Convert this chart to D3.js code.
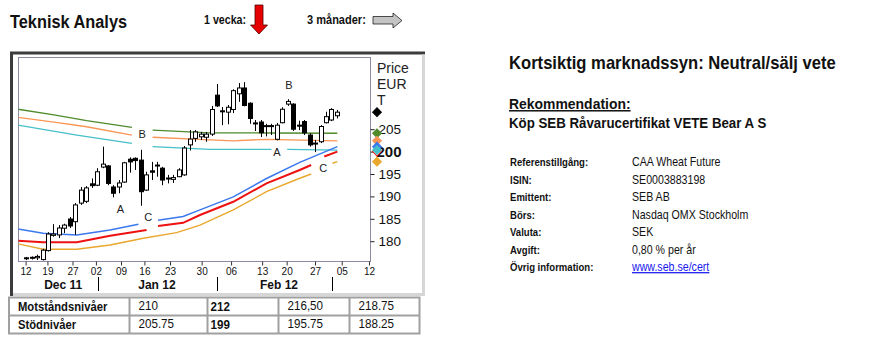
<!DOCTYPE html>
<html>
<head>
<meta charset="utf-8">
<script src="https://cdn.jsdelivr.net/npm/d3@7"></script>
<style>
  body { margin: 0; background: #fff; }
  text { fill: #111; }
</style>
</head>
<body>
<script>
// daily candles, EUR (one per trading day, Dec 12 -> early March)
const open  = [176.1,176.2,176.3,175.9,177.9,181.3,181.4,182.9,184.95,184.35,188.5,188.9,192.8,192.5,196.55,196.8,192.1,192.1,193.2,198.3,198.5,198.1,191.4,195.7,196.8,196.3,194.1,193.8,194.4,194.8,201.5,202.95,203.3,203.2,203.9,212.6,209.1,208.8,209.4,212.9,214.2,210.8,206.4,206.6,205.6,205.8,202.75,206.45,210.6,210.6,205.9,206.7,203.7,201.7,202.2,206.45,207.05,208.0];
const high  = [176.5,176.6,177.0,178.3,182.0,183.8,183.6,183.9,185.4,188.5,192.1,192.3,194.0,196.3,201.1,197.0,192.5,193.65,197.7,198.7,198.7,200.4,195.5,197.7,197.7,196.6,194.8,194.8,196.3,201.25,204.8,204.8,204.4,204.4,210.2,215.1,209.95,210.4,213.9,215.3,215.5,211.0,207.05,207.05,206.2,206.2,206.4,209.9,211.7,210.8,206.9,207.05,204.1,202.6,205.9,208.9,209.7,209.3];
const low   = [175.8,175.9,175.8,175.7,177.7,181.0,180.7,181.8,182.95,181.4,188.1,188.5,191.9,192.3,196.3,192.5,189.8,190.7,193.0,195.3,195.9,187.9,191.2,193.65,194.4,192.5,192.9,193.0,194.3,194.6,200.25,202.2,202.6,202.2,203.5,209.95,205.9,206.1,208.6,211.1,210.1,206.2,204.6,203.25,203.4,203.7,202.5,206.3,210.2,204.6,204.8,203.7,201.1,199.9,201.9,206.3,206.8,207.4];
const close = [176.3,176.4,176.6,178.0,181.6,181.6,182.95,183.6,183.4,188.1,191.4,191.9,192.4,195.5,197.2,192.9,190.7,193.0,197.5,197.7,198.0,191.05,194.8,195.4,197.0,193.65,193.95,194.2,195.9,200.8,202.8,204.4,203.9,203.9,209.4,210.2,208.9,209.9,213.6,214.2,210.3,207.4,206.2,204.2,205.8,205.6,205.9,209.45,211.2,205.0,205.7,204.2,201.5,201.9,205.6,207.8,209.4,208.8];

// indicator lines: [day index, value]; null = break around a label
const green  = [[-1.6,209.45],[5,208.2],[11,206.9],[19.3,205.4],null,[23.1,204.8],[33.6,204.2],[45,204.15],[57,204.1]];
const orange = [[-1.6,207.65],[5,206.6],[11,205.55],[19.3,203.7],null,[23.1,203.2],[33.6,202.6],[37.9,202.4],[44,202.75],[57,202.4]];
const cyan   = [[-1.6,205.9],[9.2,203.7],[19.3,201.85],null,[23.1,201.1],[33.6,200.5],[44.9,200.5],null,[47.8,200.5],[57,200.35]];
const blue   = [[-1.6,182.7],[3,181.75],[9.2,181.4],[15.3,182.5],[20.5,183.8],null,[24.1,184.7],[28.7,185.5],[31.8,187.0],[37.9,189.9],[44,194.0],[50.1,197.6],[57,201.1]];
const red    = [[-1.6,180.1],[3,179.75],[9.2,179.75],[15.3,181.2],[22,182.5],null,[24.1,183.4],[28.7,184.1],[31.8,185.85],[37.9,188.8],[44,192.9],[50.1,195.9],[52.2,197.0],null,[54.6,198.9],[57,200.0]];
const gold   = [[-1.6,179.4],[3,178.2],[9.2,178.2],[15.3,179.15],[21.4,180.65],[27.5,181.9],[31.8,183.6],[37.9,187.0],[44,191.05],[50.1,194.05],[52.2,195.0],null,[56.1,197.4],[57,197.75]];

const chartLabels = [["B",21.2,203.9],["A",17.2,187.2],["C",22.3,185.4],["B",48.1,214.95],["A",45.9,199.95],["C",54.4,196.3]];

const yTicks = [180,185,190,195,200,205];
const weekLabels = ["12","19","27","02","09","16","23","30","06","13","20","27","05","12"];
const weekPos = [-0.2,3.8,8.4,12.7,17.3,21.6,26.3,32.1,37.5,43.2,47.7,52.9,57.8,62.8];
const monthLabels = ["Dec 11","Jan 12","Feb 12"];
const monthPos = [6.7,23.9,46.3];
const monthBreaks = [13.0,34.9,56.1];

const resistance = ["210","212","216,50","218.75"];
const support = ["205.75","199","195.75","188.25"];

const infoLabels = ["Referenstillgång:","ISIN:","Emittent:","Börs:","Valuta:","Avgift:","Övrig information:"];
const infoValues = ["CAA Wheat Future","SE0003883198","SEB AB","Nasdaq OMX Stockholm","SEK","0,80 % per år","www.seb.se/cert"];

const arial = "'Liberation Sans',Arial,sans-serif";

const svg = d3.select("body").append("svg")
    .attr("width", 882).attr("height", 354)
    .style("font-family", arial);

// the original uses a condensed face; squeeze Liberation Sans horizontally
function narrowText(px, py, str, size, bold, sx) {
  return svg.append("g").attr("transform", `translate(${px},${py}) scale(${sx},1)`)
    .append("text")
    .style("font-size", size + "px")
    .style("font-weight", bold ? "bold" : "normal")
    .text(str);
}

// ---- header
narrowText(10, 28, "Teknisk Analys", 19, true, 0.86);
narrowText(204, 24, "1 vecka:", 12, true, 0.89);
svg.append("polygon")
   .attr("points", "255,5 263,5 263,25 267.5,25 259,34 250.5,25 255,25")
   .attr("fill", "#e60000").attr("stroke", "#500").attr("stroke-width", 0.8);
narrowText(307, 24, "3 månader:", 12, true, 0.92);
svg.append("polygon")
   .attr("points", "373,16.5 393,16.5 393,13 402,20.5 393,28 393,24 373,24")
   .attr("fill", "#c4c4c4").attr("stroke", "#222").attr("stroke-width", 0.8);

// ---- chart frame
svg.append("line").attr("x1", 10).attr("x2", 425).attr("y1", 53).attr("y2", 53)
   .attr("stroke", "#3c3c3c").attr("stroke-width", 3);
svg.append("line").attr("x1", 11.5).attr("x2", 11.5).attr("y1", 52).attr("y2", 296)
   .attr("stroke", "#3c3c3c").attr("stroke-width", 3);
svg.append("line").attr("x1", 423.5).attr("x2", 423.5).attr("y1", 54.5).attr("y2", 296)
   .attr("stroke", "#d6d6d6").attr("stroke-width", 3);
svg.append("line").attr("x1", 13).attr("x2", 425).attr("y1", 294.5).attr("y2", 294.5)
   .attr("stroke", "#d6d6d6").attr("stroke-width", 3);

const plot = {x0: 18.5, x1: 370.5, y0: 57.5, y1: 261.5};
svg.append("rect").attr("x", plot.x0).attr("y", plot.y0)
   .attr("width", plot.x1 - plot.x0).attr("height", plot.y1 - plot.y0)
   .attr("fill", "#fff").attr("stroke", "#8a8aa0");

svg.append("clipPath").attr("id", "clip").append("rect")
   .attr("x", plot.x0).attr("y", plot.y0)
   .attr("width", plot.x1 - plot.x0).attr("height", plot.y1 - plot.y0);

const x = d3.scaleLinear().domain([0, 57]).range([26.7, 337.35]);
const y = d3.scaleLinear().domain([180, 205]).range([241.2, 129.2]);

const g = svg.append("g").attr("clip-path", "url(#clip)");

// indicator lines
const line = d3.line().defined(d => d !== null).x(d => x(d[0])).y(d => y(d[1]));
const series = [
  {data: green,  color: "#4f8a2c", w: 1.3},
  {data: orange, color: "#f99656", w: 1.3},
  {data: cyan,   color: "#45c0c8", w: 1.3},
  {data: gold,   color: "#e9a72c", w: 1.4},
  {data: red,    color: "#ee1111", w: 2},
  {data: blue,   color: "#3b78ee", w: 1.5}
];
g.selectAll("path.ind").data(series).join("path")
  .attr("class", "ind")
  .attr("d", s => line(s.data))
  .attr("fill", "none").attr("stroke", s => s.color).attr("stroke-width", s => s.w);

// candles
const days = d3.range(open.length);
const cx = i => Math.floor(x(i)) + 0.5;
g.selectAll("line.wick").data(days).join("line")
  .attr("class", "wick")
  .attr("x1", cx).attr("x2", cx)
  .attr("y1", i => y(high[i])).attr("y2", i => y(low[i]))
  .attr("stroke", "#000");
g.selectAll("rect.body").data(days).join("rect")
  .attr("class", "body")
  .attr("x", i => cx(i) - 2).attr("width", 4)
  .attr("y", i => y(Math.max(open[i], close[i])))
  .attr("height", i => Math.max(1, Math.abs(y(open[i]) - y(close[i]))))
  .attr("fill", i => close[i] >= open[i] ? "#fff" : "#000")
  .attr("stroke", "#000");

// A/B/C labels
g.selectAll("text.lbl").data(chartLabels).join("text")
  .attr("class", "lbl")
  .attr("x", d => x(d[1])).attr("y", d => y(d[2]))
  .attr("dy", "0.36em").attr("text-anchor", "middle")
  .style("font-size", "11px").style("fill", "#222")
  .text(d => d[0]);

// y axis on the right
const yAxis = svg.append("g").attr("transform", `translate(${plot.x1},0)`)
  .call(d3.axisRight(y).tickValues(yTicks).tickSize(4).tickPadding(4));
yAxis.select(".domain").remove();
yAxis.selectAll("line").attr("stroke", "#222");
yAxis.selectAll("text")
  .style("font-family", arial).style("font-size", "13.5px").attr("fill", "#222")
  .filter(d => d === 200).style("font-size", "15px").style("font-weight", "bold")
  .attr("fill", "#000").attr("x", 6);

["Price", "EUR", "T"].forEach((t, i) => {
  svg.append("text").attr("x", 377).attr("y", 73 + i * 16)
     .style("font-size", "14px").style("fill", "#222").text(t);
});

// last-value markers
const diamond = d3.symbol(d3.symbolSquare, 38);
const marks = [
  {v: close[close.length - 1], fill: "#000", stroke: "#000"},
  {v: green[green.length - 1][1], fill: "#4f8a2c", stroke: "#4f8a2c"},
  {v: orange[orange.length - 1][1], fill: "#f99656", stroke: "#f99656"},
  {v: blue[blue.length - 1][1], fill: "#3b78ee", stroke: "#3b78ee"},
  {v: gold[gold.length - 1][1], fill: "#e9a72c", stroke: "#e9a72c"},
  {v: red[red.length - 1][1], fill: "#fff", stroke: "#ee1111"},
  {v: cyan[cyan.length - 1][1], fill: "#45c0c8", stroke: "#45c0c8"}
];
svg.selectAll("path.mark").data(marks).join("path")
  .attr("class", "mark")
  .attr("d", diamond)
  .attr("transform", d => `translate(377,${y(d.v)}) rotate(45)`)
  .attr("fill", d => d.fill).attr("stroke", d => d.stroke).attr("stroke-width", 1);

// x axis: weekly ticks and months
const xAxis = svg.append("g").attr("transform", `translate(0,${plot.y1})`)
  .call(d3.axisBottom(x).tickValues(weekPos).tickSize(4).tickPadding(2)
        .tickFormat((d, i) => weekLabels[i]));
xAxis.select(".domain").remove();
xAxis.selectAll("line").attr("stroke", "#333");
xAxis.selectAll("text").style("font-family", arial).style("font-size", "10px").attr("fill", "#222");

svg.selectAll("text.month").data(monthLabels).join("text")
  .attr("class", "month")
  .attr("x", (d, i) => x(monthPos[i])).attr("y", 289)
  .attr("text-anchor", "middle")
  .style("font-size", "12px").style("font-weight", "bold")
  .text(d => d);
svg.selectAll("line.mbreak").data(monthBreaks).join("line")
  .attr("class", "mbreak")
  .attr("x1", d => Math.round(x(d)) + 0.5).attr("x2", d => Math.round(x(d)) + 0.5)
  .attr("y1", 277).attr("y2", 291)
  .attr("stroke", "#000");

// ---- levels table
const cols = [9, 129.5, 207.5, 278.5, 349.5, 419.5];
const rows = [297.5, 315.5, 333.5];
svg.append("rect").attr("x", cols[0]).attr("y", rows[0])
   .attr("width", cols[5] - cols[0]).attr("height", rows[2] - rows[0])
   .attr("fill", "none").attr("stroke", "#a0a0a0").attr("stroke-width", 2);
svg.append("line").attr("x1", cols[0]).attr("x2", cols[5]).attr("y1", rows[1]).attr("y2", rows[1])
   .attr("stroke", "#a0a0a0").attr("stroke-width", 2);
cols.slice(1, 5).forEach(c => {
  svg.append("line").attr("x1", c).attr("x2", c).attr("y1", rows[0]).attr("y2", rows[2])
     .attr("stroke", "#a0a0a0").attr("stroke-width", 2);
});
const tableRows = [["Motståndsnivåer", resistance], ["Stödnivåer", support]];
tableRows.forEach((r, ri) => {
  const base = rows[ri] + 13.5;
  narrowText(18, base, r[0], 12.5, true, 0.9);
  r[1].forEach((v, ci) => {
    narrowText(cols[ci + 1] + (ci === 1 ? 3 : 9), base - (ci === 1 ? 0 : 1.5), v, 12.5, ci === 1, 0.93);
  });
});

// ---- right side text
narrowText(509, 69, "Kortsiktig marknadssyn: Neutral/sälj vete", 18, true, 0.923);
narrowText(509, 109, "Rekommendation:", 15, true, 0.93).style("text-decoration", "underline");
narrowText(509, 128, "Köp SEB Råvarucertifikat VETE Bear A S", 15, true, 0.886);

infoLabels.forEach((t, i) => {
  const base = 166 + i * 17.5;
  narrowText(510, base, t, 11, true, 0.87);
  const v = narrowText(632, base, infoValues[i], 12.5, false, 0.85);
  if (i === infoLabels.length - 1) {
    v.style("fill", "#1a1aee").style("text-decoration", "underline");
  }
});
</script>
</body>
</html>
